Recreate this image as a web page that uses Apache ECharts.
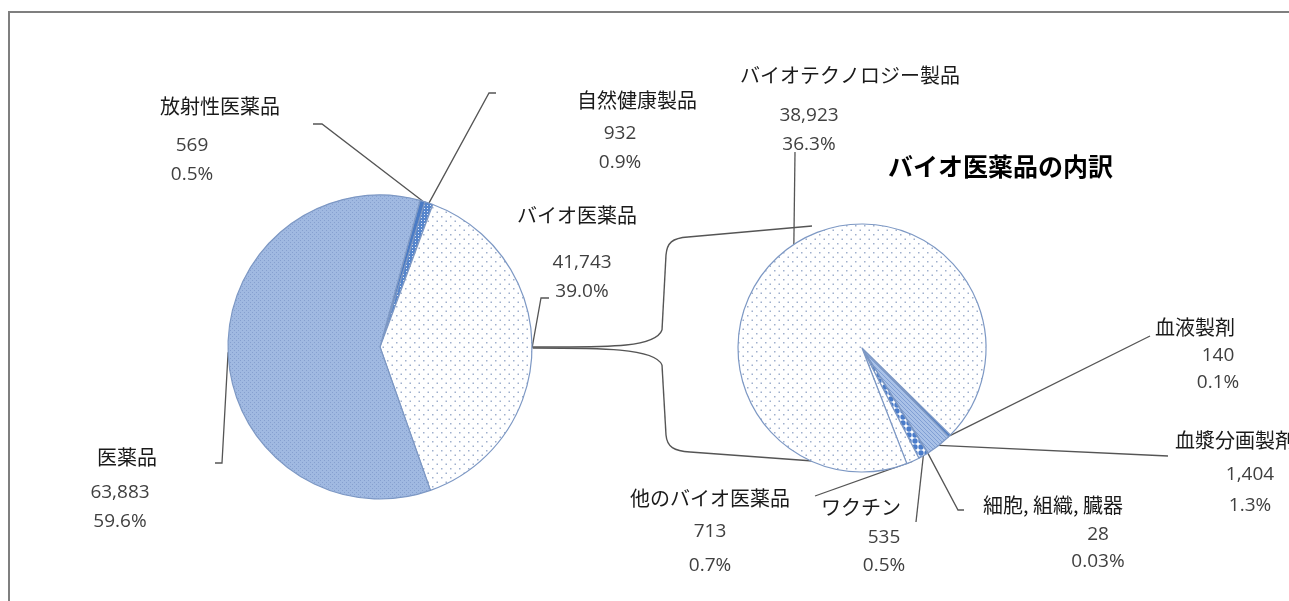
<!DOCTYPE html>
<html>
<head>
<meta charset="utf-8">
<script src="https://cdn.jsdelivr.net/npm/echarts@6/dist/echarts.min.js"></script>
<style>
  html, body { margin: 0; padding: 0; background: #ffffff; overflow: hidden; }
  #chart { width: 1289px; height: 601px; }
</style>
</head>
<body>
<div id="chart"></div>
<script>
// Overall market by product class (left pie)
const mainCategories = ['放射性医薬品', '自然健康製品', 'バイオ医薬品', '医薬品'];
const mainValues = [569, 932, 41743, 63883];

// Breakdown of biopharmaceuticals (right pie)
const bioCategories = ['血液製剤', '血漿分画製剤', '細胞, 組織, 臓器', 'ワクチン', '他のバイオ医薬品', 'バイオテクノロジー製品'];
const bioValues = [140, 1404, 28, 535, 713, 38923];

const bioTitle = 'バイオ医薬品の内訳';

// Shares are expressed against the grand total of the whole market
const grandTotal = mainValues.reduce((a, b) => a + b, 0);

function formatShare(v) {
  const pct = v / grandTotal * 100;
  return pct.toFixed(pct < 0.1 ? 2 : 1) + '%';
}

// ---------- fill patterns ----------
function makeTile(w, h, draw) {
  const c = document.createElement('canvas');
  c.width = w; c.height = h;
  draw(c.getContext('2d'), w, h);
  return { image: c, repeat: 'repeat' };
}
const fillWhiteDots = makeTile(9, 9, (g, w, h) => {
  g.fillStyle = '#ffffff'; g.fillRect(0, 0, w, h);
  g.fillStyle = '#9fb0cd';
  g.fillRect(0, 0, 1.5, 1.5);
  g.fillRect(4.5, 4.5, 1.5, 1.5);
});
const fillLightBlue = makeTile(4, 4, (g, w, h) => {
  g.fillStyle = '#a0b9e1'; g.fillRect(0, 0, w, h);
  g.fillStyle = '#86a0cf';
  g.fillRect(0, 0, 1, 1);
  g.fillRect(2, 2, 1, 1);
});
const fillBlueDots = makeTile(3, 3, (g, w, h) => {
  g.fillStyle = '#5585cc'; g.fillRect(0, 0, w, h);
  g.fillStyle = '#dfe8f6';
  g.fillRect(1, 1, 1, 1);
});
const fillHatch = makeTile(4, 4, (g, w, h) => {
  g.fillStyle = '#a9c1e7'; g.fillRect(0, 0, w, h);
  g.strokeStyle = '#809fd4'; g.lineWidth = 1;
  g.beginPath(); g.moveTo(0, 0); g.lineTo(4, 4); g.stroke();
});
const fillCircles = makeTile(6, 6, (g, w, h) => {
  g.fillStyle = '#ffffff'; g.fillRect(0, 0, w, h);
  g.fillStyle = '#4a7cca';
  g.beginPath(); g.arc(3, 3, 2.7, 0, Math.PI * 2); g.fill();
});

const mainFills = ['#4a7bc5', fillBlueDots, fillWhiteDots, fillLightBlue];
const bioFills = ['#4a7bc6', fillHatch, '#3d6dbf', fillCircles, fillWhiteDots, fillWhiteDots];

// ---------- label placement (name centre, value centre, percent row, leader bends) ----------
const mainLabelPos = [
  { nx: 220, ny: 106, vx: 192, vy: 146, py: 175, bend: [[322, 124], [313, 124]] },
  { nx: 637, ny: 100, vx: 620, vy: 134, py: 163, bend: [[489, 93], [496, 93]] },
  { nx: 577, ny: 215, vx: 582, vy: 263, py: 292, bend: [[541, 298], [549, 298]] },
  { nx: 127, ny: 457, vx: 120, vy: 493, py: 522, bend: [[222, 463], [215, 463]] }
];
const bioLabelPos = [
  { nx: 1195, ny: 327, vx: 1218, vy: 356, py: 383, bend: [[1150, 336]] },
  { nx: 1235, ny: 440, vx: 1250, vy: 475, py: 506, bend: [[1168, 456]] },
  { nx: 1053, ny: 505, vx: 1098, vy: 535, py: 562, bend: [[958, 510], [964, 510]] },
  { nx: 861, ny: 507, vx: 884, vy: 538, py: 566, bend: [[916, 522]] },
  { nx: 710, ny: 498, vx: 710, vy: 532, py: 566, bend: [[815, 496]] },
  { nx: 850, ny: 75, vx: 809, vy: 116, py: 145, bend: [[795, 152]] }
];

const nameFont = '"Noto Sans CJK JP", "Noto Sans", sans-serif';
const numFont = '"Open Sans", Lato, sans-serif';

function lineHeights(pos) {
  const lv = pos.py - pos.vy;
  const ln = 2 * (pos.vy - pos.ny) - lv;
  return { ln, lv };
}

function richFor(pos) {
  const { ln, lv } = lineHeights(pos);
  const dx = pos.vx - pos.nx;
  const pad = dx >= 0 ? [0, 0, 0, 2 * dx] : [0, -2 * dx, 0, 0];
  return {
    n: { fontFamily: nameFont, fontSize: 20, color: '#1a1a1a', lineHeight: ln, align: 'center' },
    v: { fontFamily: numFont, fontSize: 19, color: '#404040', lineHeight: lv, align: 'center', padding: pad },
    p: { fontFamily: numFont, fontSize: 19, color: '#404040', lineHeight: lv, align: 'center', padding: pad }
  };
}

function labelText(p) {
  return '{n|' + p.name + '}\n{v|' + p.value.toLocaleString('en-US') + '}\n{p|' + formatShare(p.value) + '}';
}

function layoutWith(posList) {
  return function (params) {
    const pos = posList[params.dataIndex];
    const { ln } = lineHeights(pos);
    const out = { x: pos.nx, y: pos.ny - ln / 2, align: 'center', verticalAlign: 'top' };
    if (params.labelLinePoints && params.labelLinePoints.length) {
      out.labelLinePoints = [params.labelLinePoints[0]].concat(pos.bend);
    }
    return out;
  };
}

function buildData(names, values, fills, posList) {
  return names.map((name, i) => ({
    name: name,
    value: values[i],
    itemStyle: { color: fills[i] },
    label: { rich: richFor(posList[i]) }
  }));
}

const pieCommon = {
  type: 'pie',
  clockwise: true,
  avoidLabelOverlap: false,
  silent: true,
  emphasis: { disabled: true },
  itemStyle: { borderColor: '#7d98c4', borderWidth: 1.2 },
  label: { show: true, position: 'outside', formatter: labelText, rotate: 0 },
  labelLine: { show: true, length: 10, length2: 10, smooth: false,
    lineStyle: { color: '#555555', width: 1.3 } }
};

// Bracket joining the biopharmaceutical slice to its breakdown
const bracketStyle = { fill: 'none', stroke: '#555555', lineWidth: 1.4 };
function curve(x1, y1, cpx1, cpy1, cpx2, cpy2, x2, y2) {
  return { type: 'bezierCurve', z: 1, silent: true,
    shape: { x1, y1, cpx1, cpy1, cpx2, cpy2, x2, y2 }, style: bracketStyle };
}
function seg(x1, y1, x2, y2, style) {
  return { type: 'line', z: 1, silent: true, shape: { x1, y1, x2, y2 }, style: style || bracketStyle };
}
const bracket = [
  curve(533, 347, 600, 347, 655, 349, 662, 330), seg(662, 330, 666, 255),
  curve(666, 255, 667, 243, 672, 238, 688, 237), seg(688, 237, 812, 226),
  curve(533, 348, 600, 348, 655, 348, 662, 365), seg(662, 365, 666, 435),
  curve(666, 435, 667, 447, 674, 451, 690, 452), seg(690, 452, 813, 461)
];

// Outer frame: only the left and top edges fall inside the view
const frameStyle = { stroke: '#7f7f7f', lineWidth: 2 };
const frame = [seg(9, 11, 9, 601, frameStyle), seg(8, 12, 1289, 12, frameStyle)];

const chart = echarts.init(document.getElementById('chart'), null, { renderer: 'canvas' });
chart.setOption({
  backgroundColor: '#ffffff',
  animation: false,
  graphic: [
    { type: 'text', z: 5, x: 888, y: 154, silent: true,
      style: { text: bioTitle, fontFamily: nameFont, fontSize: 25, fontWeight: 'bold', fill: '#000000' } }
  ].concat(frame, bracket),
  series: [
    Object.assign({}, pieCommon, {
      name: 'main',
      center: [380, 347],
      radius: 152,
      startAngle: 74.7,
      labelLayout: layoutWith(mainLabelPos),
      data: buildData(mainCategories, mainValues, mainFills, mainLabelPos)
    }),
    Object.assign({}, pieCommon, {
      name: 'bio',
      center: [862, 348],
      radius: 124,
      startAngle: -44.5,
      labelLayout: layoutWith(bioLabelPos),
      data: buildData(bioCategories, bioValues, bioFills, bioLabelPos)
    })
  ]
});
</script>
</body>
</html>
